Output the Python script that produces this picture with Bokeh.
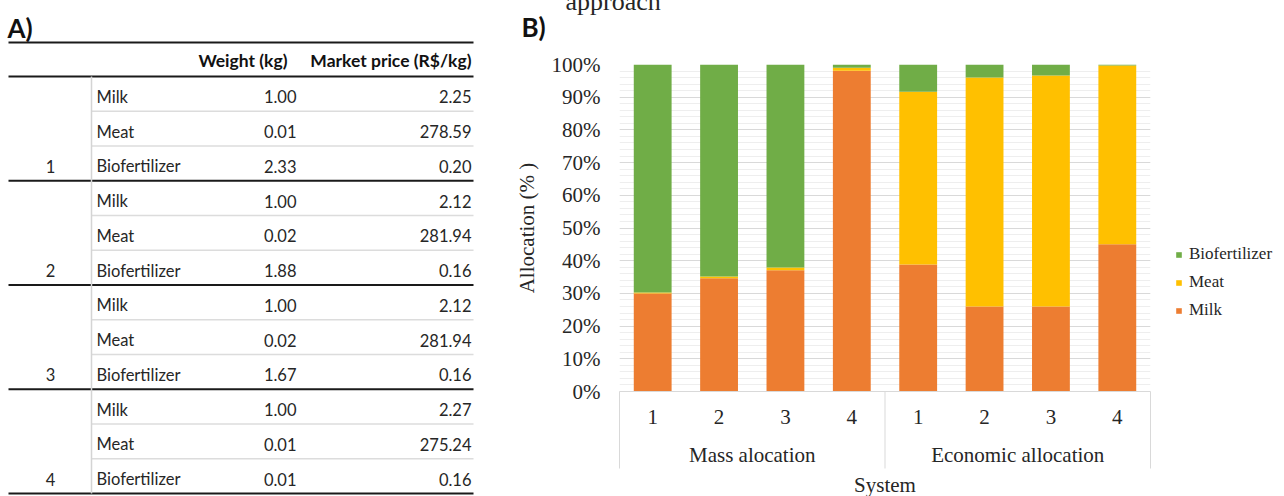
from bokeh.plotting import figure
from bokeh.models import (Range1d, LinearAxis, FixedTicker, NumeralTickFormatter,
                          Legend, LegendItem, ColumnDataSource)
from bokeh.core.properties import value
from bokeh.embed import file_html
from bokeh.resources import INLINE

# ---------------- data ----------------
systems = ["1", "2", "3", "4"]
products = ["Milk", "Meat", "Biofertilizer"]
weight_milk = [1.00, 1.00, 1.00, 1.00]
weight_meat = [0.01, 0.02, 0.02, 0.01]
weight_bio = [2.33, 1.88, 1.67, 0.01]
price_milk = [2.25, 2.12, 2.12, 2.27]
price_meat = [278.59, 281.94, 281.94, 275.24]
price_bio = [0.20, 0.16, 0.16, 0.16]
table_headers = ["Weight (kg)", "Market price (R$/kg)"]

methods = ["Mass alocation", "Economic allocation"]
alloc_milk = [30.0, 34.6, 37.1, 98.1, 38.8, 26.0, 26.0, 45.0]
alloc_meat = [0.3, 0.6, 0.8, 0.9, 52.9, 70.0, 70.6, 54.7]
alloc_bio = [69.7, 64.8, 62.1, 1.0, 8.3, 4.0, 3.4, 0.3]
series = ["Milk", "Meat", "Biofertilizer"]
colors = ["#ED7D31", "#FFC000", "#70AD47"]

SANS = "Lato"
SERIF = "Liberation Serif"
TXT = "#262626"

# frame geometry (page pixels)
FL, FR, FT, FB = 619, 1150, 64, 391

xs = [i + 1 for i in range(len(alloc_milk))]
src = ColumnDataSource(dict(
    x=xs,
    Milk=[v / 100 for v in alloc_milk],
    Meat=[v / 100 for v in alloc_meat],
    Biofertilizer=[v / 100 for v in alloc_bio],
))

p = figure(frame_width=FR - FL, frame_height=FB - FT,
           x_range=Range1d(0.5, 8.5), y_range=Range1d(0, 1),
           extra_x_ranges={"px": Range1d(FL, FR)},
           extra_y_ranges={"py": Range1d(FB, FT)},
           output_backend="svg", toolbar_location=None,
           min_border_left=FL, min_border_right=1284 - FR, min_border_top=FT,
           min_border_bottom=496 - FB, outline_line_color=None)

rs = p.vbar_stack(series, x="x", width=0.57, color=colors, source=src, line_color=None)

# ---------------- y axis ----------------
ya = p.yaxis[0]
yt = FixedTicker(ticks=[i / 10 for i in range(11)], minor_ticks=[i / 50 for i in range(51)])
ya.ticker = yt
ya.formatter = NumeralTickFormatter(format="0%")
ya.axis_line_color = None
ya.major_tick_line_color = None
ya.minor_tick_line_color = None
ya.major_tick_out = 0
ya.minor_tick_out = 0
ya.major_label_standoff = 19
ya.major_label_text_font = SERIF
ya.major_label_text_font_size = "21px"
ya.major_label_text_color = TXT
ya.axis_label = "Allocation (% )"
ya.axis_label_text_font = SERIF
ya.axis_label_text_font_size = "21px"
ya.axis_label_text_font_style = "normal"
ya.axis_label_text_color = TXT
ya.axis_label_standoff = 10
p.ygrid.ticker = yt
p.ygrid.grid_line_color = "#d9d9d9"
p.ygrid.minor_grid_line_color = "#eeeeee"
p.xgrid.visible = False

# ---------------- x axes ----------------
n_per = len(systems)
xa = p.xaxis[0]
xa.ticker = FixedTicker(ticks=xs)
xa.major_label_overrides = {x: s for x, s in zip(xs, systems * 2)}
xa.major_tick_line_color = None
xa.minor_tick_line_color = None
xa.major_tick_out = 0
xa.minor_tick_out = 0
xa.axis_line_color = "#d9d9d9"
xa.major_label_standoff = 18
xa.major_label_text_font = SERIF
xa.major_label_text_font_size = "21px"
xa.major_label_text_color = TXT

centers = [sum(xs[j * n_per:(j + 1) * n_per]) / n_per for j in range(len(methods))]
xa2 = LinearAxis(ticker=FixedTicker(ticks=centers),
                 major_label_overrides={c: m for c, m in zip(centers, methods)})
xa2.axis_line_color = None
xa2.major_tick_line_color = None
xa2.minor_tick_line_color = None
xa2.major_tick_out = 0
xa2.minor_tick_out = 0
xa2.major_label_standoff = 16
xa2.major_label_text_font = SERIF
xa2.major_label_text_font_size = "21px"
xa2.major_label_text_color = TXT
xa2.axis_label = "System"
xa2.axis_label_text_font = SERIF
xa2.axis_label_text_font_size = "21px"
xa2.axis_label_text_font_style = "normal"
xa2.axis_label_text_color = TXT
xa2.axis_label_standoff = 3
p.add_layout(xa2, "below")

kw = dict(x_range_name="px", y_range_name="py", level="overlay")

# box lines of the category axis
bounds = [0.5, 0.5 + n_per, 0.5 + 2 * n_per]
p.segment(x0=bounds, x1=bounds, y0=[FB] * 3, y1=[468] * 3, y_range_name="py",
          line_color="#d9d9d9", line_width=1, level="overlay")

# ---------------- legend ----------------
items = [LegendItem(label=series[k], renderers=[rs[k]]) for k in (2, 1, 0)]
legend = Legend(items=items, location=(25, 71), orientation="vertical",
                glyph_width=7, glyph_height=7, label_standoff=7, spacing=8,
                label_height=20, padding=0, margin=0, border_line_color=None,
                background_fill_alpha=0, label_text_font=SERIF,
                label_text_font_size="17px", label_text_color=TXT)
p.add_layout(legend, "right")

# panel captions
p.text(x=[521], y=[26], text=["B)"], text_font=value(SANS), text_font_size="26px",
       text_font_style="bold", text_baseline="middle", text_align="left",
       text_color="#111111", **kw)
p.text(x=[565], y=[1], text=["approach"], text_font=value(SERIF), text_font_size="26px",
       text_baseline="alphabetic", text_align="left", text_color=TXT, **kw)

# ---------------- table (A), drawn in page-pixel coordinates ----------------
top_line, head_line, row_h, dy = 42, 76, 34.75, 3
weights = [weight_milk, weight_meat, weight_bio]
prices = [price_milk, price_meat, price_bio]

names, ny, wv, pv, gy, gl = [], [], [], [], [], []
for g, s in enumerate(systems):
    for k, prod in enumerate(products):
        i = g * 3 + k
        names.append(prod)
        ny.append(head_line + row_h * (i + 0.5) + dy)
        wv.append("%.2f" % weights[k][g])
        pv.append("%.2f" % prices[k][g])
    gy.append(head_line + row_h * (g * 3 + 2.5) + dy)
    gl.append(s)

tf = dict(text_font=value(SANS), text_font_size="16.5px", text_baseline="middle",
          text_color=TXT)
p.text(x=[96] * len(ny), y=ny, text=names, text_align="left", **tf, **kw)
p.text(x=[296] * len(ny), y=ny, text=wv, text_align="right", **tf, **kw)
p.text(x=[471] * len(ny), y=ny, text=pv, text_align="right", **tf, **kw)
p.text(x=[50] * len(gy), y=gy, text=gl, text_align="center", **tf, **kw)
p.text(x=[287, 471], y=[60, 60], text=table_headers, text_font=value(SANS),
       text_font_size="17.5px", text_font_style="bold", text_baseline="middle",
       text_align="right", text_color="#111111", **kw)
p.text(x=[7], y=[27], text=["A)"], text_font=value(SANS), text_font_size="26px",
       text_font_style="bold", text_baseline="middle", text_align="left",
       text_color="#111111", **kw)

thick_y = [top_line, head_line] + [head_line + row_h * 3 * (g + 1) for g in range(len(systems))]
p.segment(x0=[8] * len(thick_y), x1=[473] * len(thick_y), y0=thick_y, y1=thick_y,
          line_color="#1a1a1a", line_width=2.2, **kw)
thin_y = [head_line + row_h * (i + 1) for i in range(12) if (i + 1) % 3 != 0]
p.segment(x0=[91] * len(thin_y), x1=[473] * len(thin_y), y0=thin_y, y1=thin_y,
          line_color="#dcdcdc", line_width=1.5, **kw)
p.segment(x0=[91], x1=[91], y0=[head_line], y1=[thick_y[-1]],
          line_color="#d4d4d4", line_width=1.5, **kw)

open("out.html", "w").write(file_html(p, INLINE))
